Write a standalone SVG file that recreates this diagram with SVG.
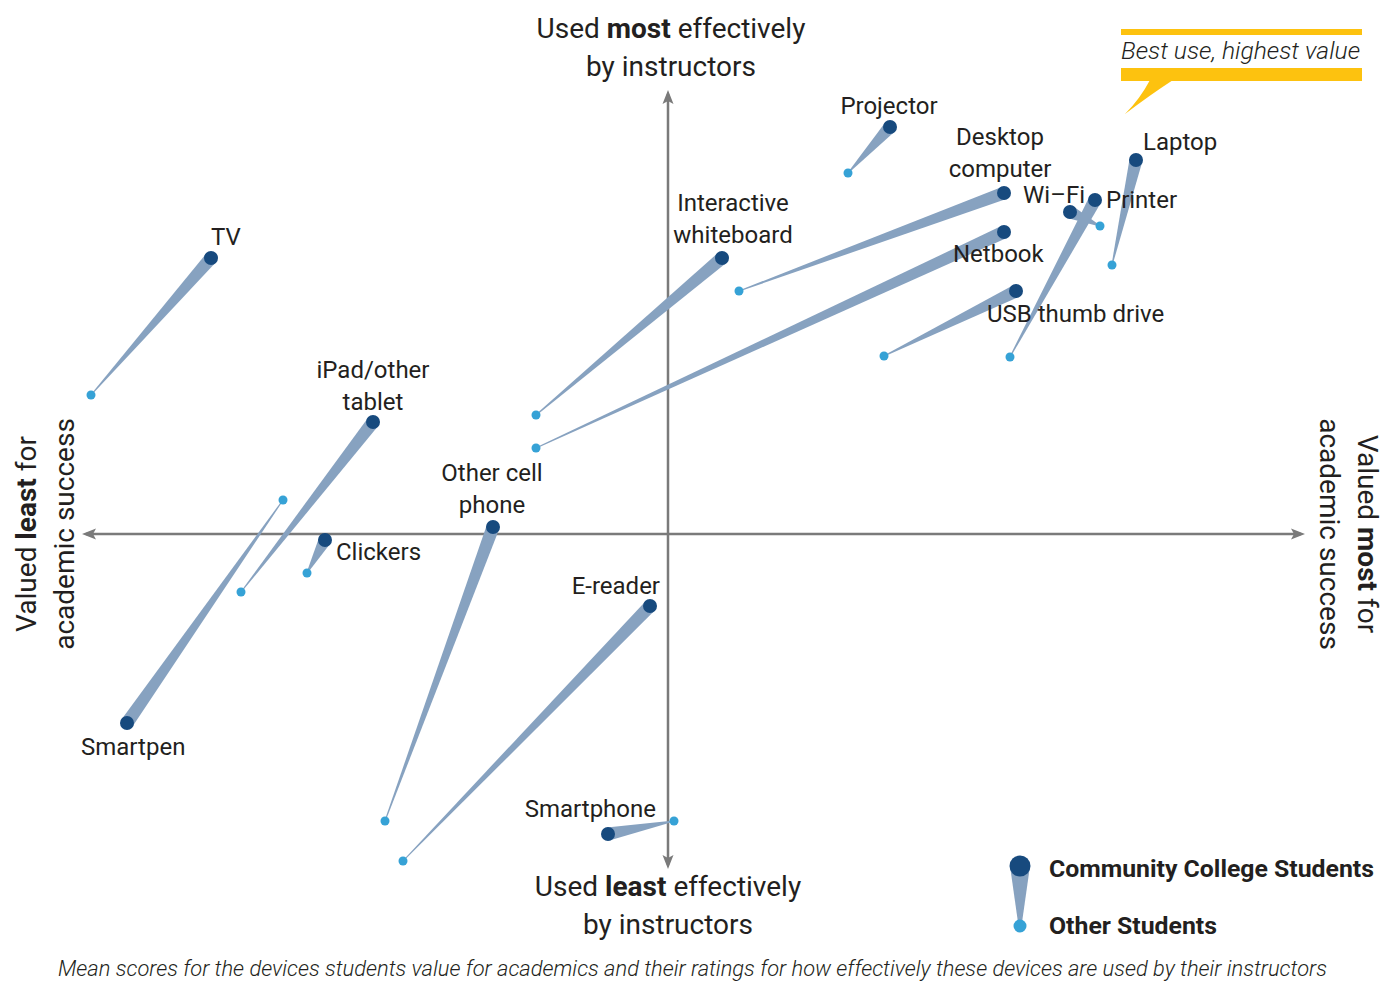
<svg xmlns="http://www.w3.org/2000/svg" width="1387" height="981" viewBox="0 0 1387 981">
<style>
text{font-family:Roboto,"Liberation Sans",sans-serif;fill:#231f20}
.ax{font-size:28px}
.lb{font-size:24px}
.lg{font-size:24.5px;font-weight:bold}
.w{fill:#87a2c0}
.d{fill:#174a7e}
.l{fill:#36a2d6}
.axis{stroke:#7a7a7a;stroke-width:2.5;fill:none}
</style>
<defs>
<marker id="arr" viewBox="0 0 14 12" refX="10" refY="6" markerWidth="14" markerHeight="12" markerUnits="userSpaceOnUse" orient="auto-start-reverse">
<path d="M0,0.5 L14,6 L0,11.5 L3,6 Z" fill="#7a7a7a"/>
</marker>
</defs>
<rect width="1387" height="981" fill="#fff"/>
<g id="axes">
<line class="axis" x1="86" y1="534" x2="1301" y2="534" marker-start="url(#arr)" marker-end="url(#arr)"/>
<line class="axis" x1="668" y1="94" x2="668" y2="865" marker-start="url(#arr)" marker-end="url(#arr)"/>
</g>
<g id="axis-labels">
<text class="ax" x="671" y="38" text-anchor="middle">Used <tspan font-weight="bold">most</tspan> effectively</text>
<text class="ax" x="671" y="76" text-anchor="middle">by instructors</text>
<text class="ax" x="668" y="896" text-anchor="middle">Used <tspan font-weight="bold">least</tspan> effectively</text>
<text class="ax" x="668" y="934" text-anchor="middle">by instructors</text>
<text class="ax" transform="translate(36,534) rotate(-90)" text-anchor="middle">Valued <tspan font-weight="bold">least</tspan> for</text>
<text class="ax" transform="translate(74,534) rotate(-90)" text-anchor="middle">academic success</text>
<text class="ax" transform="translate(1358,534) rotate(90)" text-anchor="middle">Valued <tspan font-weight="bold">most</tspan> for</text>
<text class="ax" transform="translate(1320,534) rotate(90)" text-anchor="middle">academic success</text>
</g>
<g id="connectors">
<polygon class="w" points="885.20,122.62 847.63,172.66 848.37,173.34 894.80,131.38"/>
<polygon class="w" points="1001.75,186.90 738.83,290.53 739.17,291.47 1006.25,199.10"/>
<polygon class="w" points="717.81,253.03 535.68,414.62 536.32,415.38 726.19,262.97"/>
<polygon class="w" points="1001.28,226.10 535.79,447.55 536.21,448.45 1006.72,237.90"/>
<polygon class="w" points="1067.25,217.89 1099.79,226.45 1100.21,225.55 1072.75,206.11"/>
<polygon class="w" points="1089.28,196.91 1009.56,356.76 1010.44,357.24 1100.72,203.09"/>
<polygon class="w" points="1129.66,158.55 1111.51,264.89 1112.49,265.11 1142.34,161.45"/>
<polygon class="w" points="1013.13,285.17 883.78,355.55 884.22,356.45 1018.87,296.83"/>
<polygon class="w" points="206.11,253.72 90.62,394.67 91.38,395.33 215.89,262.28"/>
<polygon class="w" points="367.87,418.01 240.61,591.69 241.39,592.31 378.13,425.99"/>
<polygon class="w" points="132.33,726.73 283.41,500.29 282.59,499.71 121.67,719.27"/>
<polygon class="w" points="319.29,536.89 306.56,572.76 307.44,573.24 330.71,543.11"/>
<polygon class="w" points="486.90,524.76 384.53,820.83 385.47,821.17 499.10,529.24"/>
<polygon class="w" points="645.33,601.48 402.64,860.65 403.36,861.35 654.67,610.52"/>
<polygon class="w" points="609.26,840.38 674.10,821.49 673.90,820.51 606.74,827.62"/>
</g>
<g id="projector"><circle class="d" cx="890" cy="127" r="7"/><circle class="l" cx="848" cy="173" r="4.5"/><text class="lb" x="889" y="114" text-anchor="middle">Projector</text></g>
<g id="desktop"><circle class="d" cx="1004" cy="193" r="7"/><circle class="l" cx="739" cy="291" r="4.5"/><text class="lb" x="1000" y="145" text-anchor="middle">Desktop</text><text class="lb" x="1000" y="177" text-anchor="middle">computer</text></g>
<g id="whiteboard"><circle class="d" cx="722" cy="258" r="7"/><circle class="l" cx="536" cy="415" r="4.5"/><text class="lb" x="733" y="211" text-anchor="middle">Interactive</text><text class="lb" x="733" y="243" text-anchor="middle">whiteboard</text></g>
<g id="netbook"><circle class="d" cx="1004" cy="232" r="7"/><circle class="l" cx="536" cy="448" r="4.5"/><text class="lb" x="953" y="262">Netbook</text></g>
<g id="wifi"><circle class="d" cx="1070" cy="212" r="7"/><circle class="l" cx="1100" cy="226" r="4.5"/><text class="lb" x="1023" y="203">Wi–Fi</text></g>
<g id="printer"><circle class="d" cx="1095" cy="200" r="7"/><circle class="l" cx="1010" cy="357" r="4.5"/><text class="lb" x="1106" y="208">Printer</text></g>
<g id="laptop"><circle class="d" cx="1136" cy="160" r="7"/><circle class="l" cx="1112" cy="265" r="4.5"/><text class="lb" x="1143" y="150">Laptop</text></g>
<g id="usb"><circle class="d" cx="1016" cy="291" r="7"/><circle class="l" cx="884" cy="356" r="4.5"/><text class="lb" x="987" y="322">USB thumb drive</text></g>
<g id="tv"><circle class="d" cx="211" cy="258" r="7"/><circle class="l" cx="91" cy="395" r="4.5"/><text class="lb" x="211" y="245">TV</text></g>
<g id="ipad"><circle class="d" cx="373" cy="422" r="7"/><circle class="l" cx="241" cy="592" r="4.5"/><text class="lb" x="373" y="378" text-anchor="middle">iPad/other</text><text class="lb" x="373" y="410" text-anchor="middle">tablet</text></g>
<g id="smartpen"><circle class="d" cx="127" cy="723" r="7"/><circle class="l" cx="283" cy="500" r="4.5"/><text class="lb" x="81" y="755">Smartpen</text></g>
<g id="clickers"><circle class="d" cx="325" cy="540" r="7"/><circle class="l" cx="307" cy="573" r="4.5"/><text class="lb" x="336" y="560">Clickers</text></g>
<g id="cellphone"><circle class="d" cx="493" cy="527" r="7"/><circle class="l" cx="385" cy="821" r="4.5"/><text class="lb" x="492" y="481" text-anchor="middle">Other cell</text><text class="lb" x="492" y="513" text-anchor="middle">phone</text></g>
<g id="ereader"><circle class="d" cx="650" cy="606" r="7"/><circle class="l" cx="403" cy="861" r="4.5"/><text class="lb" x="660" y="594" text-anchor="end">E-reader</text></g>
<g id="smartphone"><circle class="d" cx="608" cy="834" r="7"/><circle class="l" cx="674" cy="821" r="4.5"/><text class="lb" x="656" y="817" text-anchor="end">Smartphone</text></g>
<g id="callout">
<rect x="1121" y="29" width="241" height="6" fill="#fdc20f"/>
<rect x="1121" y="68" width="241" height="13" fill="#fdc20f"/>
<path d="M1150,80 Q1140,99 1125,114 Q1150,95 1173,80 Z" fill="#fdc20f"/>
<text x="1121" y="59" font-size="23.5" font-style="italic" font-weight="300" textLength="239" lengthAdjust="spacingAndGlyphs">Best use, highest value</text>
</g>
<g id="legend">
<polygon class="w" points="1010,866 1030,866 1021.5,926 1018.5,926"/>
<circle class="d" cx="1020" cy="866" r="10.5"/>
<circle class="l" cx="1020" cy="926" r="6.5"/>
<text class="lg" x="1049" y="877" textLength="325" lengthAdjust="spacingAndGlyphs">Community College Students</text>
<text class="lg" x="1049" y="934" textLength="168" lengthAdjust="spacingAndGlyphs">Other Students</text>
</g>
<g id="caption">
<text x="58" y="976" font-size="21.5" font-style="italic" font-weight="300" textLength="1269" lengthAdjust="spacingAndGlyphs">Mean scores for the devices students value for academics and their ratings for how effectively these devices are used by their instructors</text>
</g>
</svg>
